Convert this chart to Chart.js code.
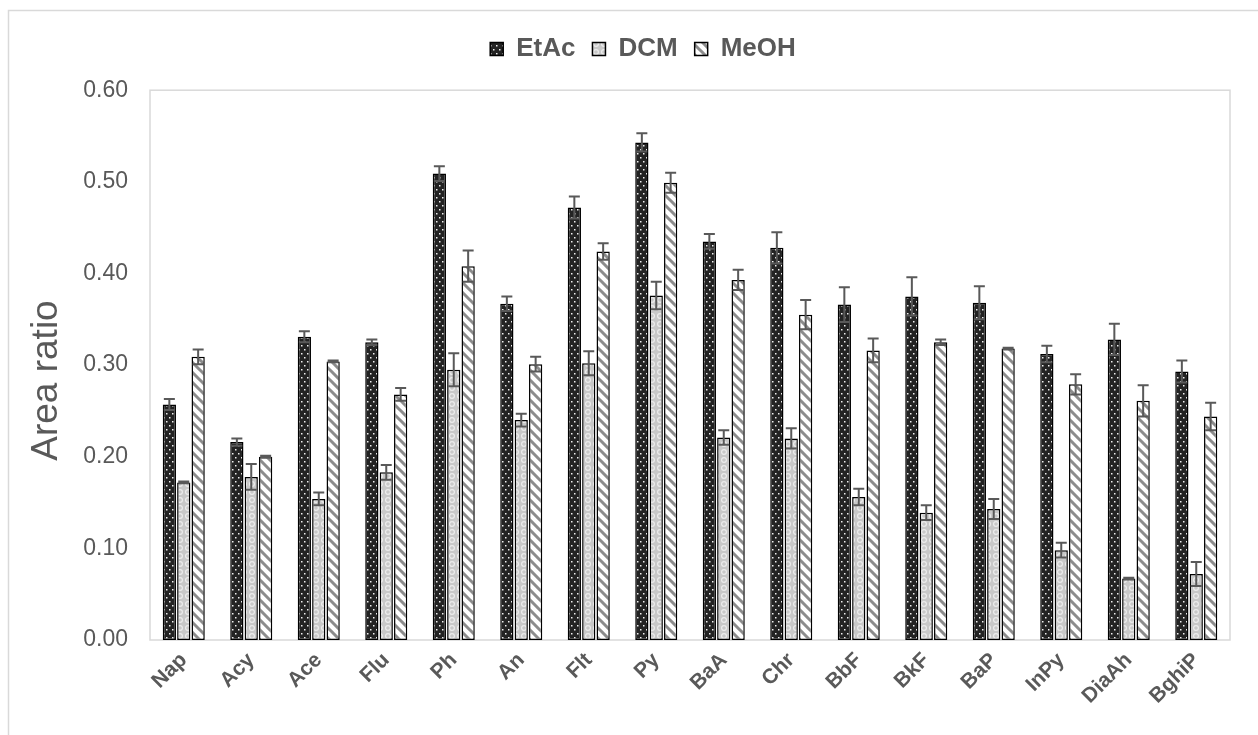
<!DOCTYPE html>
<html>
<head>
<meta charset="utf-8">
<script src="https://cdn.jsdelivr.net/npm/chart.js@4"></script>
<style>
html,body{margin:0;padding:0;background:#fff;}
#wrap{width:1258px;height:735px;position:relative;}
</style>
</head>
<body>
<div id="wrap"><canvas id="c" width="1258" height="735"></canvas></div>
<script>
const categories = ["Nap","Acy","Ace","Flu","Ph","An","Flt","Py","BaA","Chr","BbF","BkF","BaP","InPy","DiaAh","BghiP"];
const seriesNames = ["EtAc","DCM","MeOH"];
const etacValues = [0.257,0.216,0.331,0.325,0.509,0.367,0.472,0.543,0.435,0.428,0.366,0.375,0.368,0.312,0.328,0.293];
const dcmValues  = [0.172,0.178,0.154,0.183,0.295,0.240,0.302,0.376,0.221,0.220,0.156,0.139,0.143,0.098,0.067,0.072];
const meohValues = [0.309,0.200,0.304,0.268,0.408,0.301,0.424,0.499,0.393,0.355,0.316,0.325,0.318,0.279,0.261,0.244];
const etacErrors = [0.006,0.004,0.006,0.003,0.008,0.008,0.012,0.010,0.008,0.017,0.019,0.021,0.018,0.009,0.017,0.012];
const dcmErrors  = [0.001,0.014,0.007,0.008,0.018,0.007,0.013,0.015,0.008,0.011,0.009,0.008,0.011,0.008,0.001,0.013];
const meohErrors = [0.008,0.001,0.001,0.007,0.017,0.008,0.009,0.011,0.011,0.016,0.013,0.003,0.001,0.011,0.017,0.015];
const yTicks = [0.00,0.10,0.20,0.30,0.40,0.50,0.60];

const FONT='"Liberation Sans", Arial, sans-serif';

function makePattern(kind){
  const t=document.createElement('canvas');
  const g=t.getContext('2d');
  if(kind==='dots'){
    t.width=6;t.height=8;
    g.fillStyle='#232323';g.fillRect(0,0,6,8);
    g.fillStyle='#f0f0f0';
    g.fillRect(1,1,1.5,1.5);
    g.fillRect(4,5,1.5,1.5);
  } else if(kind==='circles'){
    t.width=8;t.height=8;
    g.fillStyle='#c8c8c8';g.fillRect(0,0,8,8);
    g.strokeStyle='#ececec';g.lineWidth=1.2;
    g.beginPath();g.arc(4,4,2.4,0,Math.PI*2);g.stroke();
  } else {
    t.width=10;t.height=10;
    g.fillStyle='#ffffff';g.fillRect(0,0,10,10);
    g.strokeStyle='#8c8c8c';g.lineWidth=3;
    g.beginPath();
    g.moveTo(-2,-2);g.lineTo(12,12);
    g.moveTo(-2,8);g.lineTo(2,12);
    g.moveTo(8,-2);g.lineTo(12,2);
    g.stroke();
  }
  return document.getElementById('c').getContext('2d').createPattern(t,'repeat');
}

const errorSets=[etacErrors,dcmErrors,meohErrors];

const frameAndErrors={
  id:'frameAndErrors',
  afterLayout(chart){
    if(chart.legend){chart.legend.left+=23;chart.legend.right+=23;}
  },
  beforeDraw(chart){
    const ctx=chart.ctx;
    ctx.save();
    ctx.strokeStyle='#d9d9d9';ctx.lineWidth=1.5;
    ctx.beginPath();
    ctx.moveTo(8.5,735);ctx.lineTo(8.5,10.5);ctx.lineTo(1258,10.5);
    ctx.stroke();
    const a=chart.chartArea;
    ctx.strokeRect(a.left,a.top,a.right-a.left,a.bottom-a.top);
    ctx.restore();
  },
  afterDatasetsDraw(chart){
    const ctx=chart.ctx;const ys=chart.scales.y;
    ctx.save();
    ctx.strokeStyle='#595959';ctx.lineWidth=2;
    chart.data.datasets.forEach((ds,i)=>{
      const meta=chart.getDatasetMeta(i);
      meta.data.forEach((bar,j)=>{
        const v=ds.data[j],e=errorSets[i][j];
        const yt=ys.getPixelForValue(v+e),yb=ys.getPixelForValue(v-e);
        const x=bar.x;
        ctx.beginPath();
        ctx.moveTo(x,yt);ctx.lineTo(x,yb);
        ctx.moveTo(x-5.5,yt);ctx.lineTo(x+5.5,yt);
        ctx.moveTo(x-5.5,yb);ctx.lineTo(x+5.5,yb);
        ctx.stroke();
      });
    });
    ctx.restore();
  }
};

const fills=[makePattern('dots'),makePattern('circles'),makePattern('stripes')];
const values=[etacValues,dcmValues,meohValues];

new Chart(document.getElementById('c'),{
  type:'bar',
  data:{
    labels:categories,
    datasets:seriesNames.map((n,i)=>({
      label:n,
      data:values[i],
      backgroundColor:fills[i],
      borderColor:'#000000',
      borderWidth:1.5,
      borderSkipped:false,
      categoryPercentage:0.64,
      barPercentage:0.92
    }))
  },
  options:{
    responsive:false,
    animation:false,
    devicePixelRatio:1,
    layout:{padding:{top:19,right:28,left:10,bottom:0}},
    plugins:{
      legend:{
        position:'top',
        labels:{
          boxWidth:13,boxHeight:13,padding:17,
          color:'#595959',
          font:{family:FONT,size:26,weight:'bold'}
        }
      },
      title:{
        display:true,text:' ',weight:500,position:'top',
        font:{size:1},padding:{top:0,bottom:17}
      },
      tooltip:{enabled:false}
    },
    scales:{
      x:{
        grid:{display:false},
        border:{display:false},
        ticks:{
          color:'#595959',
          maxRotation:45,minRotation:45,
          padding:0,
          font:{family:FONT,size:21,weight:'bold'}
        },
        afterFit(s){s.height=95;}
      },
      y:{
        min:0,max:0.6,
        grid:{display:false},
        border:{display:false},
        afterBuildTicks(s){s.ticks=yTicks.map(v=>({value:v}));},
        ticks:{
          color:'#595959',
          padding:14,
          callback:v=>Number(v).toFixed(2),
          font:{family:FONT,size:23}
        },
        title:{
          display:true,text:'Area ratio   ',color:'#595959',
          padding:{top:15,bottom:0},
          font:{family:FONT,size:37}
        },
        afterFit(s){s.width=140;}
      }
    }
  },
  plugins:[frameAndErrors]
});
</script>
</body>
</html>
